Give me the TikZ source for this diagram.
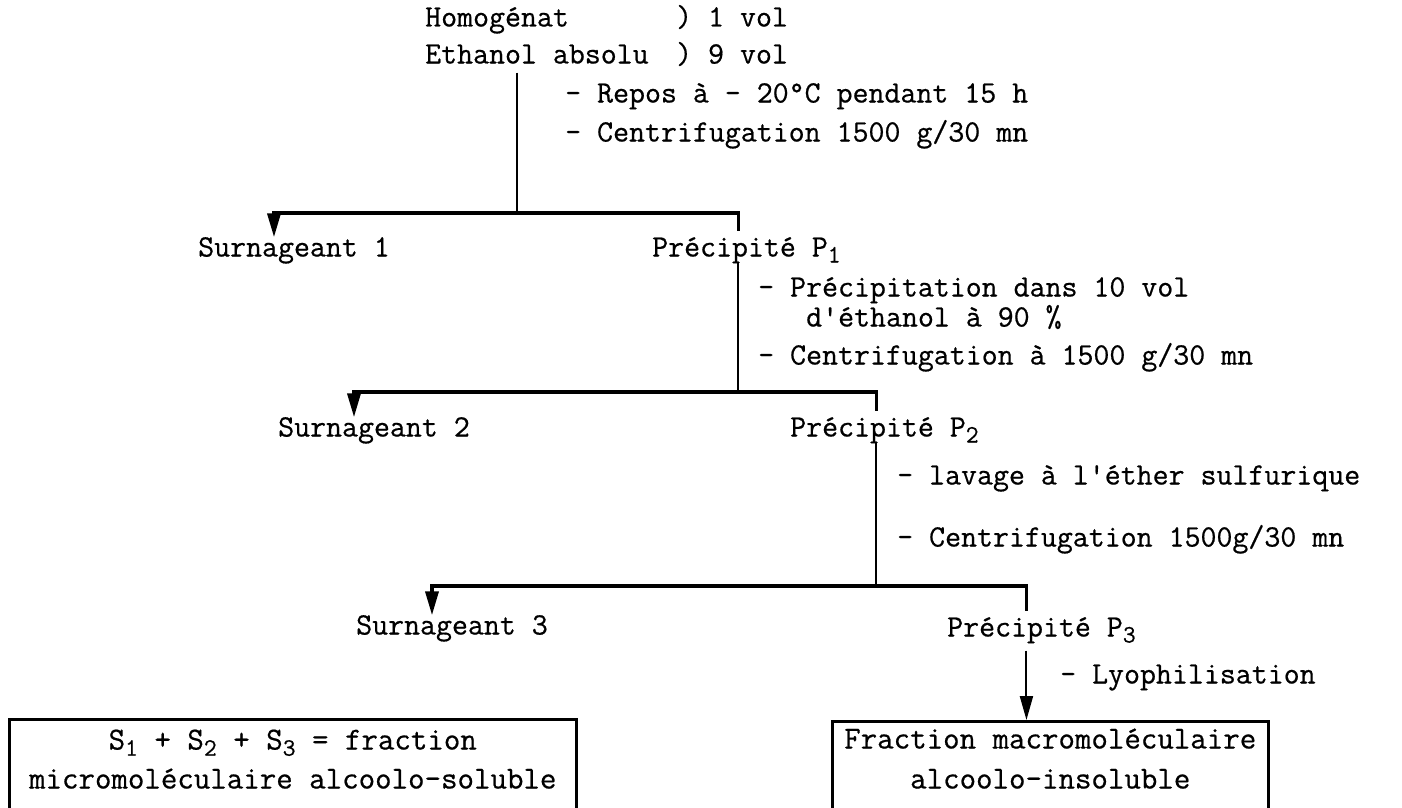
\documentclass[tikz,border=0pt]{standalone}
\usepackage{fontspec}
\newfontfamily\typewriter{Latin Modern Mono}[FakeBold=0.6]
\usetikzlibrary{arrows.meta}
\newcommand\lowidx[1]{\raisebox{-0.45ex}{\fontsize{25}{25}\selectfont #1}}
\begin{document}
\begin{tikzpicture}[x=1pt,y=-1pt,
  txt/.style={inner sep=0pt, anchor=west, font=\typewriter\fontsize{31}{35}\selectfont, text height=19pt, text depth=6pt},
  ctxt/.style={txt, anchor=center, font=\typewriter\fontsize{32}{36}\selectfont},
  trunk/.style={line width=2pt},
  branch/.style={line width=3.5pt},
  tip/.style={-{Triangle[length=24pt,width=13pt]}},
  frame/.style={draw, line width=2.5pt, anchor=north west, inner sep=0pt}
]
\useasboundingbox (0,0) rectangle (1402,808);
\clip (0,0) rectangle (1402,808);

% starting mixture
\node[txt] (hom)  at (425,20) {Homogénat};
\node[txt] (homv) at (676,20) {) 1 vol};
\node[txt] (eth)  at (425,57) {Ethanol absolu};
\node[txt] (ethv) at (676,57) {) 9 vol};
\node[txt] (st1a) at (565,96)  {- Repos à - 20°C pendant 15 h};
\node[txt] (st1b) at (565,135) {- Centrifugation 1500 g/30 mn};

% first separation
\node[txt] (s1) at (198,250) {Surnageant 1};
\node[txt] (p1) at (652,250) {Précipité P\lowidx{1}};
\coordinate (j1) at (517,213);
\draw[trunk] (j1 |- eth.south) ++(0,3) -- (j1);
\draw[branch, tip] (j1) -| ([xshift=-20pt]s1.north);
\draw[branch] (j1) -| ([xshift=-8pt,yshift=6pt]p1.north);

\node[txt] (st2a) at (758,290) {- Précipitation dans 10 vol};
\node[txt] (st2b) at (806,320) {d\textquotesingle éthanol à 90 \%};
\node[txt] (st2c) at (758,358) {- Centrifugation à 1500 g/30 mn};

% second separation
\node[txt] (s2) at (278,430) {Surnageant 2};
\node[txt] (p2) at (790,430) {Précipité P\lowidx{2}};
\coordinate (j2) at ([xshift=-8pt]p1.center |- 0,392);
\draw[trunk] (j2 |- p1.south) -- (j2);
\draw[branch, tip] (j2) -| ([xshift=-20pt]s2.north);
\draw[branch] (j2) -| ([xshift=-8pt,yshift=6pt]p2.north);

\node[txt] (st3a) at (897,478) {- lavage à l\textquotesingle éther sulfurique};
\node[txt] (st3b) at (897,540) {- Centrifugation 1500g/30 mn};

% third separation
\node[txt] (s3) at (356,628) {Surnageant 3};
\node[txt] (p3) at (947,630) {Précipité P\lowidx{3}};
\coordinate (j3) at ([xshift=-8pt]p2.center |- 0,586);
\draw[trunk] (j3 |- p2.south) -- (j3);
\draw[branch, tip] (j3) -| ([xshift=-20pt]s3.north);
\draw[branch] (j3) -| ([xshift=-15pt,yshift=6pt]p3.north);

\node[txt] (st4) at (1060,677) {- Lyophilisation};

% final fractions
\node[frame, minimum width=567pt, minimum height=130pt] (lbox) at (8,718) {};
\node[ctxt] (l1) at ([yshift=-25pt]lbox.north) {S\lowidx{1} + S\lowidx{2} + S\lowidx{3} = fraction};
\node[ctxt] (l2) at ([yshift=-64pt]lbox.north) {micromoléculaire alcoolo-soluble};

\node[frame, minimum width=436pt, minimum height=130pt] (rbox) at (831,720) {};
\node[ctxt] (r1) at ([yshift=-22pt]rbox.north) {Fraction macromoléculaire};
\node[ctxt] (r2) at ([yshift=-62pt]rbox.north) {alcoolo-insoluble};

\draw[trunk, tip] ([xshift=-15pt,yshift=-8pt]p3.south) coordinate (p3s) -- (p3s |- rbox.north);
\end{tikzpicture}
\end{document}
